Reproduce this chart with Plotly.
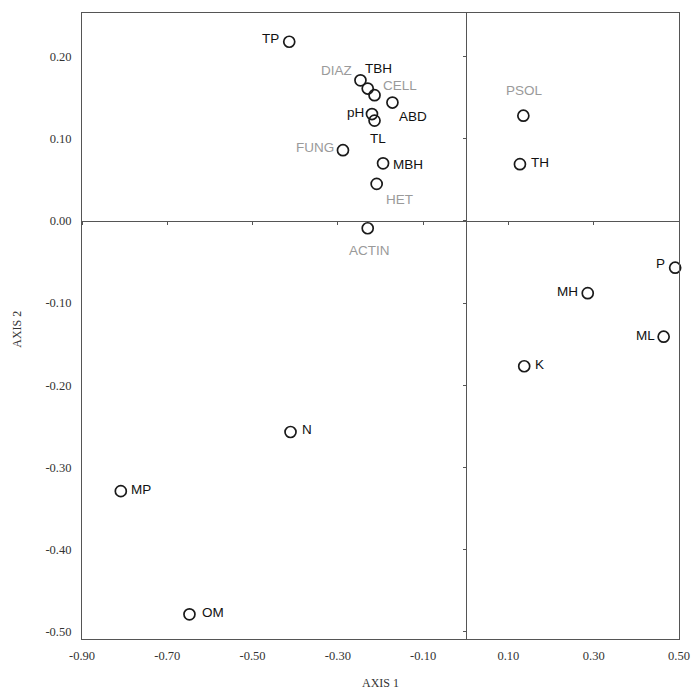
import plotly.graph_objects as go

# ---- data ----
labels = ["TP", "DIAZ", "TBH", "CELL", "ABD", "pH", "TL", "FUNG", "MBH", "HET", "ACTIN",
          "PSOL", "TH", "P", "MH", "ML", "K", "N", "MP", "OM"]
axis1 = [-0.414, -0.247, -0.230, -0.214, -0.172, -0.220, -0.214, -0.288, -0.194, -0.209, -0.230,
         0.135, 0.127, 0.491, 0.286, 0.464, 0.137, -0.411, -0.809, -0.648]
axis2 = [0.218, 0.171, 0.161, 0.153, 0.144, 0.130, 0.122, 0.086, 0.070, 0.045, -0.009,
         0.128, 0.069, -0.057, -0.088, -0.141, -0.177, -0.257, -0.329, -0.479]
gray_labels = ["DIAZ", "CELL", "FUNG", "HET", "ACTIN", "PSOL"]
x_ticks = [-0.90, -0.70, -0.50, -0.30, -0.10, 0.10, 0.30, 0.50]
y_ticks = [0.20, 0.10, 0.00, -0.10, -0.20, -0.30, -0.40, -0.50]
x_range = [-0.90, 0.50]
y_range = [-0.509, 0.253]

# label placement style: (xanchor, xshift px, yshift px)
label_style = {
    "TP": ("right", -8, 3), "DIAZ": ("right", -6, 10), "TBH": ("center", 11, 20),
    "CELL": ("left", 6, 10), "ABD": ("left", 5, -14), "pH": ("right", -6, 2),
    "TL": ("center", 3, -18), "FUNG": ("right", -7, 3), "MBH": ("left", 8, -1),
    "HET": ("left", 7, -16), "ACTIN": ("center", 2, -22), "PSOL": ("center", 1, 25),
    "TH": ("left", 9, 2), "P": ("right", -8, 4), "MH": ("right", -8, 2),
    "ML": ("right", -7, 1), "K": ("left", 9, 2), "N": ("left", 9, 2),
    "MP": ("left", 8, 2), "OM": ("left", 11, 2),
}

fig = go.Figure()

fig.add_trace(go.Scatter(
    x=axis1, y=axis2, mode="markers",
    marker=dict(symbol="circle-open", size=11, color="#1a1a1a", line=dict(width=1.7)),
    showlegend=False, cliponaxis=False, hovertext=labels,
))

label_font = "Liberation Sans, Arial, sans-serif"
for lab, xv, yv in zip(labels, axis1, axis2):
    xa, xs, ys = label_style[lab]
    fig.add_annotation(
        x=xv, y=yv, text=lab, showarrow=False, xanchor=xa, yanchor="middle",
        xshift=xs, yshift=ys,
        font=dict(family=label_font, size=13.5,
                  color="#9a9a9a" if lab in gray_labels else "#111111"),
    )

# invisible helper trace so the overlay axes (zero lines with ticks) exist
fig.add_trace(go.Scatter(x=[x_range[0]], y=[y_range[0]], xaxis="x2", yaxis="y2",
                         mode="markers", marker=dict(opacity=0), showlegend=False,
                         hoverinfo="skip"))

y_zero_frac = (0 - y_range[0]) / (y_range[1] - y_range[0])
x_zero_frac = (0 - x_range[0]) / (x_range[1] - x_range[0])

serif = "Liberation Serif, Times New Roman, serif"
tickfont = dict(family=serif, size=12.5, color="#333333")

fig.add_annotation(text="AXIS 1", xref="paper", yref="paper", x=0.5, y=0,
                   yshift=-44, showarrow=False, yanchor="middle",
                   font=dict(family=serif, size=12, color="#333333"))
fig.add_annotation(text="AXIS 2", xref="paper", yref="paper", x=0,
                   y=0.494, xshift=-65, showarrow=False, textangle=-90,
                   xanchor="center", yanchor="middle",
                   font=dict(family=serif, size=12, color="#333333"))

fig.update_layout(
    width=693, height=690,
    margin=dict(l=82, r=14, t=13, b=51),
    plot_bgcolor="white", paper_bgcolor="white",
    xaxis=dict(range=x_range, tickvals=x_ticks, ticktext=[f"{v:.2f}" for v in x_ticks],
               tickfont=tickfont, automargin=False,
               showgrid=False, zeroline=False, showline=True, linecolor="#555555",
               linewidth=1, mirror=True, ticks="", ticklabelstandoff=5),
    yaxis=dict(range=y_range, tickvals=y_ticks, ticktext=[f"{v:.2f}" for v in y_ticks],
               tickfont=tickfont, automargin=False,
               showgrid=False, zeroline=False, showline=True, linecolor="#555555",
               linewidth=1, mirror=True, ticks="", ticklabelstandoff=7),
    xaxis2=dict(range=x_range, overlaying="x", anchor="free", position=y_zero_frac,
                side="bottom", tickvals=x_ticks, showticklabels=False, ticks="outside",
                ticklen=3, tickcolor="#555555", showline=True, linecolor="#555555",
                linewidth=1, showgrid=False, zeroline=False, automargin=False),
    yaxis2=dict(range=y_range, overlaying="y", anchor="free", position=x_zero_frac,
                side="left", tickvals=y_ticks, showticklabels=False, ticks="outside",
                ticklen=3, tickcolor="#555555", showline=True, linecolor="#555555",
                linewidth=1, showgrid=False, zeroline=False, automargin=False),
)

fig.write_html(
    "out.html",
    config={"displayModeBar": False},
    post_script="document.body.style.margin='0';"
                "document.documentElement.style.overflow='hidden';",
)
